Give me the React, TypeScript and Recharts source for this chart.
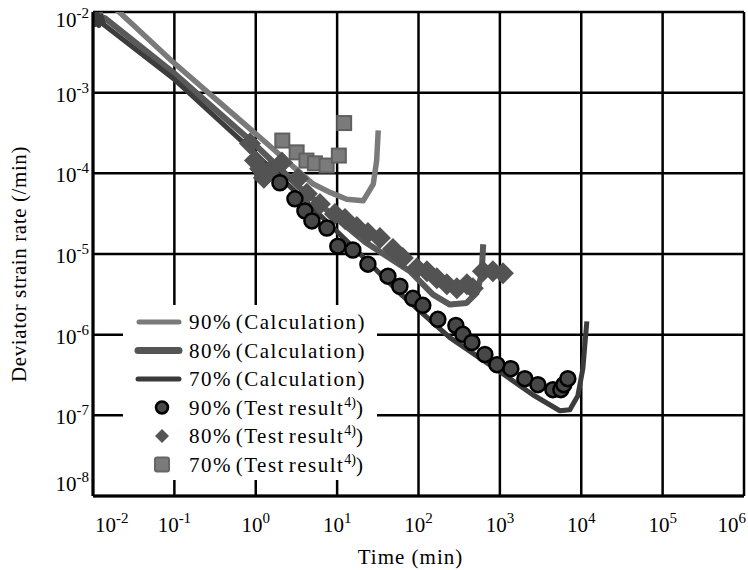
import {
  ComposedChart,
  Line,
  Scatter,
  XAxis,
  YAxis,
  CartesianGrid,
  Legend,
  Label,
} from 'recharts';

// time (min), deviator strain rate (/min)
const xTicks = [1e-2, 1e-1, 1, 10, 100, 1e3, 1e4, 1e5, 1e6];
const yTicks = [1e-8, 1e-7, 1e-6, 1e-5, 1e-4, 1e-3, 1e-2];

const calc90 = [
  [0.015, 1.3e-2], [0.021, 1.0e-2], [0.096, 2.4e-3], [1.12, 2.8e-4], [5.08, 7.36e-5],
  [8.2, 5.8e-5], [13.1, 4.78e-5], [20.9, 4.56e-5], [27.8, 7.36e-5], [30.6, 1.44e-4],
  [32, 3.4e-4],
];

const calc80 = [
  [0.01, 1.1e-2], [0.0104, 7.5e-3], [0.0109, 1.05e-2], [0.0115, 7.2e-3], [0.0122, 9.8e-3],
  [0.013, 7.6e-3], [0.014, 8.4e-3], [0.0962, 1.79e-3], [0.925, 2.4e-4], [3.49, 6.62e-5],
  [22, 1.41e-5], [78.3, 6.12e-6], [151, 3.14e-6], [243, 2.36e-6], [390, 2.47e-6],
  [518, 3.29e-6], [596, 5.57e-6], [624, 1.32e-5],
];

const calc70 = [
  [0.01, 1.0e-2], [0.0106, 7.0e-3], [0.0112, 9.6e-3], [0.0118, 6.8e-3], [0.0126, 8.8e-3],
  [0.0135, 7.0e-3], [0.0962, 1.51e-3], [0.849, 2.02e-4], [3.49, 5.26e-5], [14.4, 1.33e-5],
  [59, 3.26e-6], [243, 9.2e-7], [1000, 3.48e-7], [2540, 1.8e-7], [5460, 1.14e-7],
  [7245, 1.17e-7], [9080, 1.75e-7], [10470, 3.79e-7], [11720, 1.46e-6],
];

const test90 = [
  [1.98, 7.64e-5], [3.03, 4.83e-5], [4.02, 3.42e-5], [4.9, 2.57e-5], [7.48, 2.1e-5],
  [10.2, 1.25e-5], [15.6, 1.12e-5], [23.9, 7.48e-6], [42.1, 5.31e-6], [59, 3.98e-6],
  [85.3, 2.82e-6], [113, 2.31e-6], [173, 1.55e-6], [288, 1.3e-6], [351, 1.01e-6],
  [453, 8.0e-7], [654, 5.67e-7], [919, 4.25e-7], [1365, 3.79e-7], [2028, 2.85e-7],
  [2930, 2.4e-7], [4480, 2.08e-7], [5610, 2.08e-7], [6110, 2.4e-7], [6840, 2.85e-7],
];

const test80 = [
  [0.849, 2.34e-4], [0.977, 1.44e-4], [1.13, 1.14e-4], [1.26, 8.8e-5], [1.49, 1.08e-4],
  [2.1, 1.36e-4], [3.3, 8.57e-5], [4.25, 5.57e-5], [6.15, 4.18e-5], [9.4, 3.14e-5],
  [12.5, 2.72e-5], [17.5, 2.16e-5], [23.9, 1.82e-5], [33.6, 1.58e-5], [48.5, 1.15e-5],
  [64.3, 8.9e-6], [95.5, 6.67e-6], [127, 6.12e-6], [168, 5.01e-6], [223, 4.22e-6],
  [296, 3.76e-6], [394, 4.22e-6], [466, 3.76e-6], [618, 6.12e-6], [820, 6.12e-6],
  [1090, 5.78e-6],
];

const test70 = [
  [2.12, 2.55e-4], [3.18, 1.82e-4], [4.2, 1.44e-4], [5.33, 1.33e-4], [7.43, 1.25e-4],
  [10.5, 1.66e-4], [12.2, 4.2e-4],
];

const toPoints = (rows: number[][]) => rows.map(([t, r]) => ({ t, r }));

const FONT = '"Liberation Serif", "Times New Roman", serif';

function XTick(props: any) {
  const { x, y, payload } = props;
  const e = Math.round(Math.log10(payload.value));
  const anchor = e === -2 ? 'start' : e === 6 ? 'end' : 'middle';
  const dx = e === -2 ? 2 : e === 6 ? 2 : 0;
  return (
    <text x={x + dx} y={y + 34} textAnchor={anchor} fontFamily={FONT} fontSize={21} fill="#000">
      10<tspan dy={-9} fontSize={15}>{e}</tspan>
    </text>
  );
}

function YTick(props: any) {
  const { x, y, payload } = props;
  const e = Math.round(Math.log10(payload.value));
  let dy = 9;
  if (e === -2) dy = 15;
  if (e === -8) dy = -5;
  return (
    <text x={x - 2} y={y + dy} textAnchor="end" fontFamily={FONT} fontSize={21} fill="#000">
      10<tspan dy={-9} fontSize={15}>{e}</tspan>
    </text>
  );
}

const circleShape = (p: any) => (
  <circle cx={p.cx} cy={p.cy} r={7.5} fill="#474747" stroke="#000" strokeWidth={2.5} />
);
const diamondShape = (p: any) => (
  <polygon
    points={`${p.cx},${p.cy - 11} ${p.cx + 11},${p.cy} ${p.cx},${p.cy + 11} ${p.cx - 11},${p.cy}`}
    fill="#535353"
  />
);
const squareShape = (p: any) => (
  <rect x={p.cx - 7} y={p.cy - 7} width={14} height={14} fill="#7b7b7b" stroke="#606060" strokeWidth={2} />
);

const legendRows = [
  { label: '90% (Calculation)', sup: false },
  { label: '80% (Calculation)', sup: false },
  { label: '70% (Calculation)', sup: false },
  { label: '90% (Test result', sup: true },
  { label: '80% (Test result', sup: true },
  { label: '70% (Test result', sup: true },
];

function LegendBox() {
  const mark = (i: number, cy: number) => {
    if (i === 0) return <line x1={16} x2={56} y1={cy} y2={cy} stroke="#7a7a7a" strokeWidth={5} strokeLinecap="round" />;
    if (i === 1) return <line x1={15} x2={56} y1={cy} y2={cy} stroke="#555" strokeWidth={7} strokeLinecap="round" />;
    if (i === 2) return <line x1={15} x2={56} y1={cy} y2={cy} stroke="#3a3a3a" strokeWidth={5} strokeLinecap="round" />;
    if (i === 3) return <circle cx={39} cy={cy} r={6} fill="#474747" stroke="#000" strokeWidth={2.5} />;
    if (i === 4) return <polygon points={`39,${cy - 7} 46,${cy} 39,${cy + 7} 32,${cy}`} fill="#555" />;
    return <rect x={32} y={cy - 7} width={14} height={14} rx={2} fill="#7b7b7b" stroke="#666" strokeWidth={2} />;
  };
  return (
    <svg width={254} height={175} style={{ display: 'block' }}>
      {legendRows.map((row, i) => {
        const cy = 17 + i * 28.5;
        return (
          <g key={row.label}>
            {mark(i, cy)}
            <text x={66} y={cy + 7} fontFamily={FONT} fontSize={21} letterSpacing={1.5} wordSpacing={-3} fill="#000">
              {row.label}
              {row.sup ? (
                <>
                  <tspan dy={-8} fontSize={14} letterSpacing={0}>4)</tspan>
                  <tspan dy={8}>)</tspan>
                </>
              ) : null}
            </text>
          </g>
        );
      })}
    </svg>
  );
}

export default function App() {
  return (
    <div style={{ position: 'absolute', left: 0, top: 0, width: 748, height: 570, background: '#fff' }}>
      <ComposedChart width={748} height={570} margin={{ top: 12, right: 4, bottom: 0, left: 0 }}>
        <CartesianGrid stroke="#000" strokeWidth={2.5} />
        <XAxis
          dataKey="t"
          type="number"
          scale="log"
          domain={[1e-2, 1e6]}
          ticks={xTicks}
          allowDataOverflow
          height={74}
          tickSize={0}
          tickLine={false}
          axisLine={{ stroke: '#000', strokeWidth: 3 }}
          tick={<XTick />}
          interval={0}
        >
          <Label
            content={(p: any) => {
              const vb = p.viewBox;
              return (
                <text x={vb.x + vb.width / 2 - 8} y={vb.y + 68} textAnchor="middle" fontFamily={FONT} fontSize={21} letterSpacing={1} fill="#000">
                  Time (min)
                </text>
              );
            }}
          />
        </XAxis>
        <YAxis
          dataKey="r"
          type="number"
          scale="log"
          domain={[1e-8, 1e-2]}
          ticks={yTicks}
          allowDataOverflow
          width={93}
          tickSize={0}
          tickLine={false}
          axisLine={{ stroke: '#000', strokeWidth: 3 }}
          tick={<YTick />}
          interval={0}
        >
          <Label
            content={(p: any) => {
              const vb = p.viewBox;
              const cx = vb.x + 26;
              const cy = vb.y + vb.height / 2 + 10;
              return (
                <text
                  x={cx}
                  y={cy}
                  transform={`rotate(-90, ${cx}, ${cy})`}
                  textAnchor="middle"
                  fontFamily={FONT}
                  fontSize={21}
                  letterSpacing={0.6}
                  fill="#000"
                >
                  Deviator strain rate (/min)
                </text>
              );
            }}
          />
        </YAxis>
        <Line data={toPoints(calc90)} dataKey="r" type="linear" dot={false} stroke="#7a7a7a" strokeWidth={5.5} strokeLinejoin="round" isAnimationActive={false} />
        <Line data={toPoints(calc80)} dataKey="r" type="linear" dot={false} stroke="#595959" strokeWidth={6} strokeLinejoin="round" isAnimationActive={false} />
        <Line data={toPoints(calc70)} dataKey="r" type="linear" dot={false} stroke="#3c3c3c" strokeWidth={5} strokeLinejoin="round" isAnimationActive={false} />
        <Scatter data={toPoints(test80)} shape={diamondShape} isAnimationActive={false} />
        <Scatter data={toPoints(test90)} shape={circleShape} isAnimationActive={false} />
        <Scatter data={toPoints(test70)} shape={squareShape} isAnimationActive={false} />
        <Legend
          layout="vertical"
          align="center"
          verticalAlign="middle"
          content={() => <LegendBox />}
          wrapperStyle={{ left: 123, top: 305, width: 254, height: 175, background: '#fff' }}
        />
      </ComposedChart>
    </div>
  );
}
